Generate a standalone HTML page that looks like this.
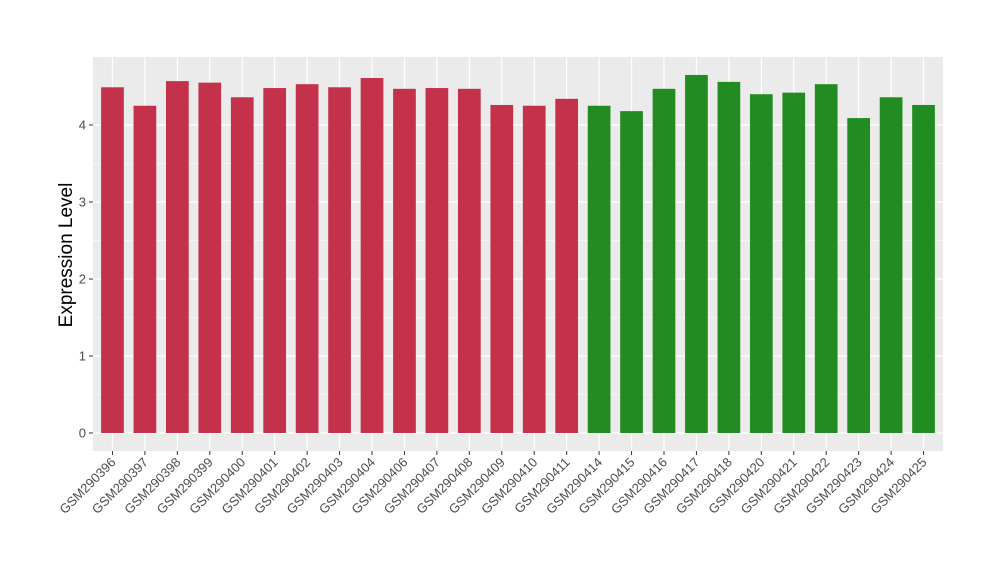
<!DOCTYPE html>
<html><head><meta charset="utf-8"><style>
body{margin:0;background:#fff;}
svg text{font-family:"Liberation Sans",Arial,sans-serif;}
</style></head><body>
<svg id="chart" width="1000" height="580" xmlns="http://www.w3.org/2000/svg">
<rect x="93" y="57" width="850" height="394" fill="#ebebeb"/>
<g id="grid"></g><g id="bars"></g><g id="yaxis"></g><g id="xaxis"></g>
<text x="72" y="255" font-size="19" text-anchor="middle" transform="rotate(-90 72 255)" fill="#000">Expression Level</text>
</svg>
<script>
const categories=["GSM290396","GSM290397","GSM290398","GSM290399","GSM290400","GSM290401","GSM290402","GSM290403","GSM290404","GSM290406","GSM290407","GSM290408","GSM290409","GSM290410","GSM290411","GSM290414","GSM290415","GSM290416","GSM290417","GSM290418","GSM290420","GSM290421","GSM290422","GSM290423","GSM290424","GSM290425"];
const values=[4.49,4.25,4.57,4.55,4.36,4.48,4.53,4.49,4.61,4.47,4.48,4.47,4.26,4.25,4.34,4.25,4.18,4.47,4.65,4.56,4.40,4.42,4.53,4.09,4.36,4.26];
const groups=["a","a","a","a","a","a","a","a","a","a","a","a","a","a","a","b","b","b","b","b","b","b","b","b","b","b"];
const yTicks=[0,1,2,3,4];
const colors={a:"#c3324a",b:"#228b22"};
const NS="http://www.w3.org/2000/svg";
const px0=93,px1=943,py0=57,py1=451;
const y=v=>433-v*77;
const band=(px1-px0)/(categories.length+0.2);
const x=i=>px0+band*(0.6+i);
function mk(t,a,p){const e=document.createElementNS(NS,t);for(const k in a)e.setAttribute(k,a[k]);p.appendChild(e);return e;}
const grid=document.getElementById('grid'),bars=document.getElementById('bars'),ya=document.getElementById('yaxis'),xa=document.getElementById('xaxis');
for(let k=0;k<yTicks.length;k++){
 const v=yTicks[k];
 if(k<yTicks.length-1){const m=mk('line',{x1:px0,x2:px1,y1:y(v+0.5),y2:y(v+0.5),stroke:'#fff','stroke-width':0.6},grid);
 
 }
 const g=mk('line',{x1:px0,x2:px1,y1:y(v),y2:y(v),stroke:'#fff','stroke-width':1.2},grid);
 
 
 mk('line',{x1:px0-4,x2:px0,y1:y(v),y2:y(v),stroke:'#333','stroke-width':1},ya);
 const t=mk('text',{x:px0-7,y:y(v)+4.5,'font-size':13,'text-anchor':'end',fill:'#4d4d4d'},ya);
 t.textContent=v;
 
 
}
categories.forEach((c,i)=>{
 const g=mk('line',{x1:x(i),x2:x(i),y1:py0,y2:py1,stroke:'#fff','stroke-width':1.2},grid);
 
 
 const w=band*0.7;
 const r=mk('rect',{x:x(i)-w/2,y:y(values[i]),width:w,height:y(0)-y(values[i]),fill:colors[groups[i]]},bars);
 
 
 mk('line',{x1:x(i),x2:x(i),y1:py1,y2:py1+4,stroke:'#333','stroke-width':1},xa);
 const t=mk('text',{x:x(i)+4,y:py1+12,'font-size':13,'text-anchor':'end',fill:'#4d4d4d',transform:`rotate(-45 ${x(i)+4} ${py1+12})`},xa);
 t.textContent=c;
 
 
});
</script>
</body></html>
